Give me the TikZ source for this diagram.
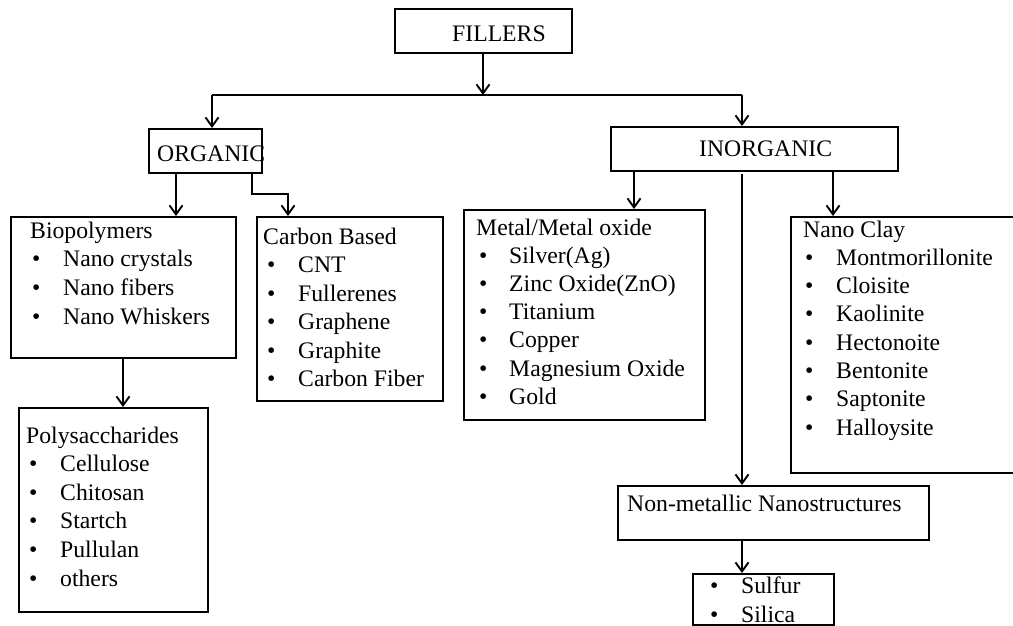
\documentclass[tikz,border=0pt]{standalone}
\usepackage{fontspec}
\setmainfont{Liberation Serif}
\usetikzlibrary{arrows.meta,fit}
\tikzset{
  box/.style={draw, line width=2pt, inner sep=0pt, rectangle},
  txt/.style={anchor=base west, inner sep=0pt, font=\fontsize{23.7}{28.5}\selectfont},
  conn/.style={line width=1.9pt},
  arr/.style={conn, -{Straight Barb[length=9pt,width=13pt]}},
}
% bulleted lines: name, bullet x, text x, baseline above first line, line step, items
\newcommand{\itemlist}[6]{%
  \foreach \t [count=\i] in {#6} {
    \node[txt] (#1-b\i) at (#2, #4+#5*\i) {\textbullet};
    \node[txt] (#1-\i) at (#3, #4+#5*\i) {\t};
  }}
% titled list: name, title x, bullet x, text x, title baseline, step, title, items
\newcommand{\boxlist}[8]{%
  \node[txt] (#1-t) at (#2,#5) {#7};
  \itemlist{#1}{#3}{#4}{#5}{#6}{#8}}
\begin{document}
\begin{tikzpicture}[x=1pt,y=-1pt]
\useasboundingbox (0,0) rectangle (1013,626);

% boxes
\node[box, fit={(395,9) (572,53)}] (fillers) {};
\node[box, fit={(149,129) (262,173)}] (organic) {};
\node[box, fit={(611,127) (898,171)}] (inorganic) {};
\node[box, fit={(11,217) (236,358)}] (bio) {};
\node[box, fit={(257,217) (443,401)}] (carbon) {};
\node[box, fit={(19,408) (208,612)}] (poly) {};
\node[box, fit={(464,210) (705,420)}] (metal) {};
\node[box, fit={(791,217) (1020,473)}] (nano) {};
\node[box, fit={(618,486) (929,540)}] (nonmet) {};
\node[box, fit={(693,574) (834,625)}] (sulfur) {};

% connectors
\coordinate (split) at (483,95);
\coordinate (hl) at (212,95);
\coordinate (hr) at (742,95);
\draw[arr] (fillers.south -| split) -- (split);
\draw[conn] (hl) -- (hr);
\draw[arr] (hl) -- (hl |- organic.north);
\draw[arr] (hr) -- (hr |- inorganic.north);

\coordinate (oa) at (176,0);
\coordinate (ob) at (252,0);
\coordinate (oc) at (288,194);
\draw[arr] (organic.south -| oa) -- (bio.north -| oa);
\draw[arr] (organic.south -| ob) |- (oc) -- (carbon.north -| oc);
\coordinate (ba) at (123,0);
\draw[arr] (bio.south -| ba) -- (poly.north -| ba);

\coordinate (ia) at (634,0);
\coordinate (ib) at (742,0);
\coordinate (ic) at (833,0);
\draw[arr] (inorganic.south -| ia) -- (metal.north -| ia);
\draw[arr, shorten <=2pt] (inorganic.south -| ib) -- (nonmet.north -| ib);
\draw[arr] (inorganic.south -| ic) -- (nano.north -| ic);
\draw[arr] (nonmet.south -| ib) -- (sulfur.north -| ib);

% labels
\node[txt] (fillers-t) at (452,42) {FILLERS};
\node[txt] (organic-t) at (157,161) {ORGANIC};
\node[txt] (inorganic-t) at (699,156) {INORGANIC};
\node[txt] (nonmet-t) at (627,511) {Non-metallic Nanostructures};

\boxlist{bio}{30}{32}{63}{238}{28.7}{Biopolymers}{Nano crystals, Nano fibers, Nano Whiskers}
\boxlist{carbon}{263}{267}{298}{244}{28.5}{Carbon Based}{CNT, Fullerenes, Graphene, Graphite, Carbon Fiber}
\boxlist{poly}{26}{29}{60}{443}{28.6}{Polysaccharides}{Cellulose, Chitosan, Startch, Pullulan, others}
\boxlist{metal}{476}{479}{509}{235}{28.2}{Metal/Metal oxide}{Silver(Ag), Zinc Oxide(ZnO), Titanium, Copper, Magnesium Oxide, Gold}
\boxlist{nano}{803}{805}{836}{237}{28.3}{Nano Clay}{Montmorillonite, Cloisite, Kaolinite, Hectonoite, Bentonite, Saptonite, Halloysite}
\itemlist{sulfur}{710}{741}{564}{29}{Sulfur, Silica}
\end{tikzpicture}
\end{document}
